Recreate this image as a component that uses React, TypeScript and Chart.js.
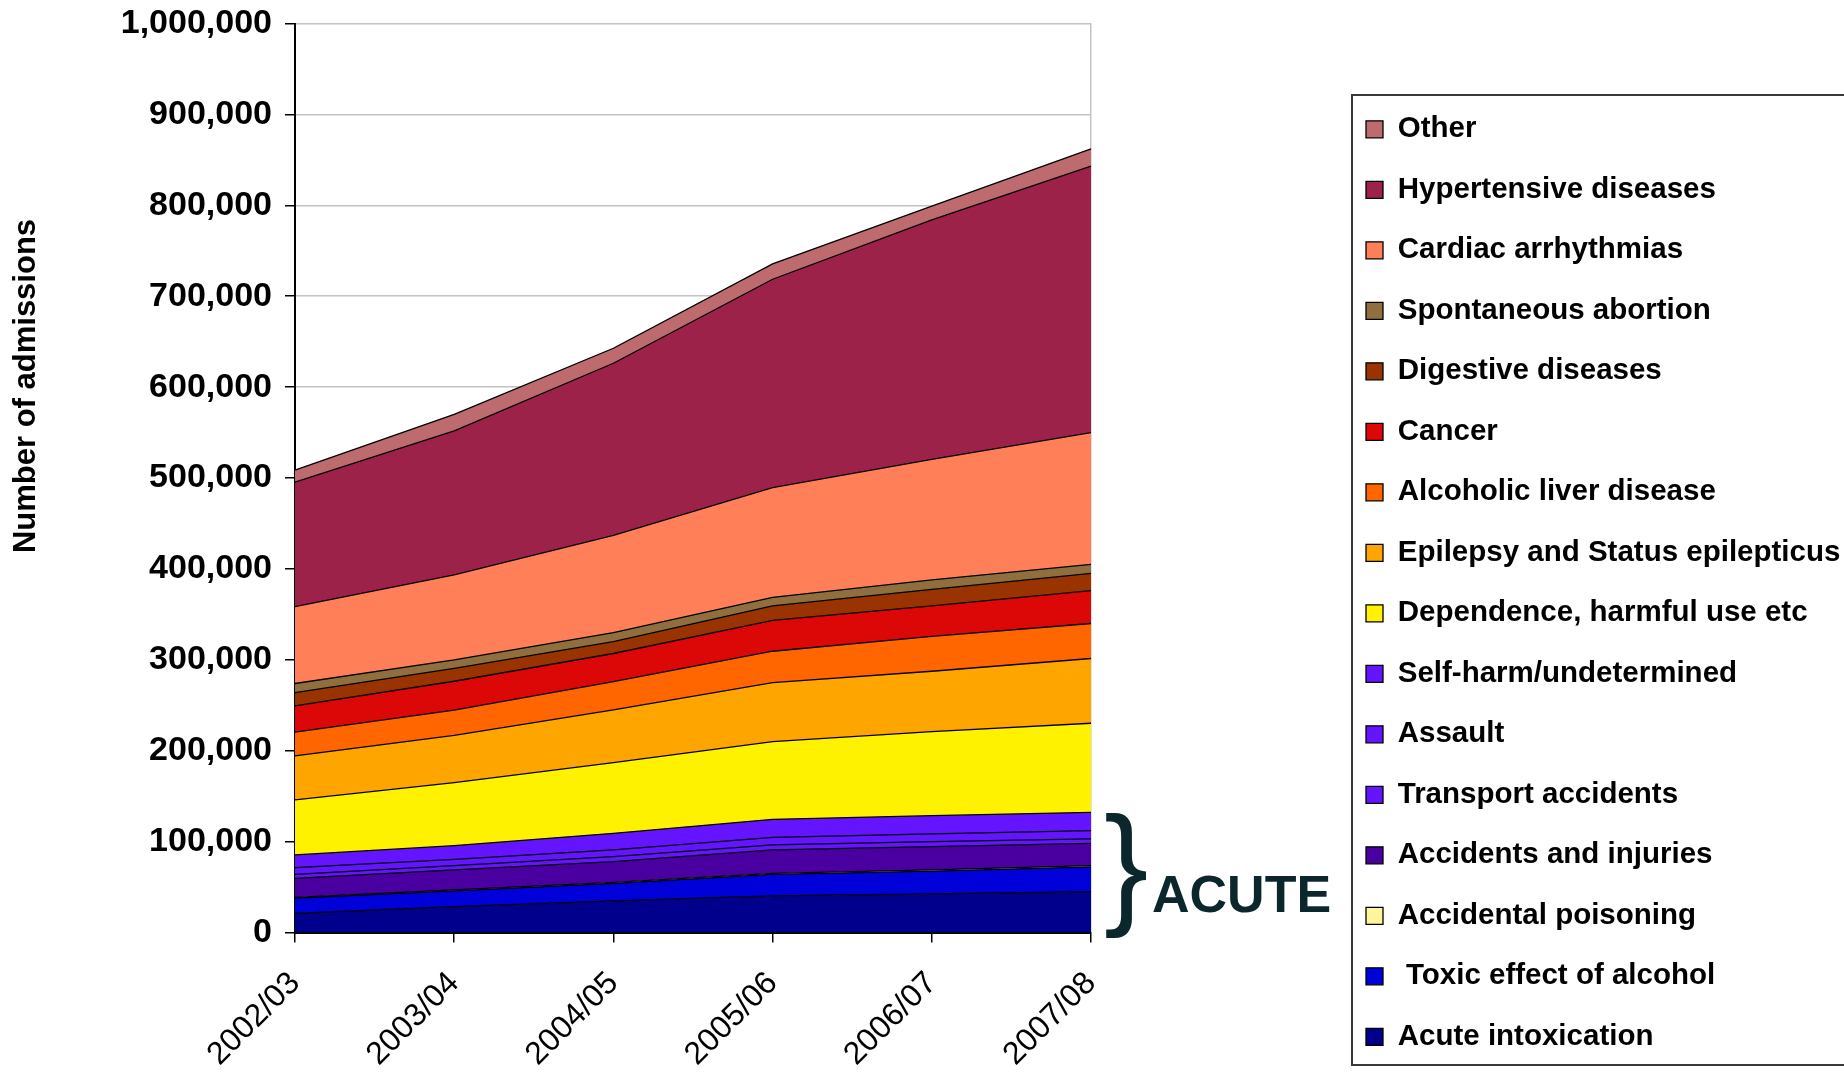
import React, { useEffect, useRef } from 'react';
import { Chart, registerables } from 'chart.js';

Chart.register(...registerables);

const categories = ['2002/03', '2003/04', '2004/05', '2005/06', '2006/07', '2007/08'];

// Series listed from the bottom of the stack to the top
const acuteIntoxication = [21200, 28500, 34800, 40300, 42500, 45000];
const toxicEffectOfAlcohol = [16800, 17400, 19400, 23700, 25200, 27300];
const accidentalPoisoning = [800, 1000, 1100, 1200, 1200, 1300];
const accidentsAndInjuries = [20900, 22000, 22700, 25700, 25600, 24600];
const transportAccidents = [4400, 4700, 5500, 5500, 5500, 4800];
const assault = [7300, 7000, 7400, 8400, 8500, 9100];
const selfHarm = [14000, 15000, 18300, 19800, 20100, 20200];
const dependenceHarmfulUse = [60600, 69400, 77800, 85400, 92400, 98000];
const epilepsy = [48300, 52000, 58000, 65000, 66500, 71200];
const alcoholicLiverDisease = [26200, 27700, 31000, 34500, 38300, 38500];
const cancer = [29000, 31800, 31000, 34000, 33500, 36200];
const digestiveDiseases = [14500, 14200, 13000, 15800, 18300, 19000];
const spontaneousAbortion = [10000, 9300, 10000, 9500, 10400, 9800];
const cardiacArrhythmias = [84500, 93400, 107000, 120700, 132500, 145000];
const hypertensiveDiseases = [137000, 158600, 189300, 229200, 263500, 293000];
const other = [13100, 18000, 16500, 16800, 15000, 19000];

const seriesNames = [
  'Acute intoxication',
  ' Toxic effect of alcohol',
  'Accidental poisoning',
  'Accidents and injuries',
  'Transport accidents',
  'Assault',
  'Self-harm/undetermined',
  'Dependence, harmful use etc',
  'Epilepsy and Status epilepticus',
  'Alcoholic liver disease',
  'Cancer',
  'Digestive diseases',
  'Spontaneous abortion',
  'Cardiac arrhythmias',
  'Hypertensive diseases',
  'Other',
];

const seriesValues = [
  acuteIntoxication,
  toxicEffectOfAlcohol,
  accidentalPoisoning,
  accidentsAndInjuries,
  transportAccidents,
  assault,
  selfHarm,
  dependenceHarmfulUse,
  epilepsy,
  alcoholicLiverDisease,
  cancer,
  digestiveDiseases,
  spontaneousAbortion,
  cardiacArrhythmias,
  hypertensiveDiseases,
  other,
];

const seriesColors = [
  '#00008C',
  '#0000D8',
  '#FFF59A',
  '#4A00A0',
  '#6414FF',
  '#6414FF',
  '#6414FF',
  '#FFF200',
  '#FFA500',
  '#FF6600',
  '#DC0707',
  '#993300',
  '#8F6F3E',
  '#FF7F59',
  '#9C2249',
  '#BD6B6E',
];

const yAxisTitle = 'Number of admissions';
const annotationText = 'ACUTE';

const FONT = "'Liberation Sans', Arial, Helvetica, sans-serif";

const decorPlugin = {
  id: 'decor',
  afterDraw(chart: any) {
    const { ctx, chartArea, legend } = chart;
    // y axis title
    ctx.save();
    ctx.fillStyle = '#000';
    ctx.font = `bold 31px ${FONT}`;
    ctx.textAlign = 'center';
    ctx.textBaseline = 'middle';
    ctx.translate(26, 386);
    ctx.rotate(-Math.PI / 2);
    ctx.fillText(yAxisTitle, 0, 0);
    ctx.restore();

    // legend frame
    if (legend) {
      ctx.save();
      ctx.strokeStyle = '#3a3a3a';
      ctx.lineWidth = 2;
      ctx.strokeRect(legend.left + 17, legend.top + 71.5, legend.width + 40, 970);
      ctx.restore();
    }

    // brace + ACUTE label
    ctx.save();
    ctx.fillStyle = '#0B272C';
    ctx.textAlign = 'left';
    ctx.textBaseline = 'alphabetic';
    ctx.font = `133px ${FONT}`;
    ctx.fillText('}', chartArea.right + 13, chartArea.bottom - 23);
    ctx.font = `bold 52px ${FONT}`;
    ctx.fillText(annotationText, chartArea.right + 61, chartArea.bottom - 21);
    ctx.restore();
  },
};

export default function App() {
  const ref = useRef<HTMLCanvasElement>(null);

  useEffect(() => {
    document.body.style.margin = '0';
    document.body.style.overflow = 'hidden';
    const canvas = ref.current;
    if (!canvas) return;

    const datasets = seriesNames.map((name, i) => ({
      label: name,
      data: seriesValues[i],
      backgroundColor: seriesColors[i],
      borderColor: '#000',
      borderWidth: 1.3,
      fill: i === 0 ? 'origin' : '-1',
      pointRadius: 0,
      pointHoverRadius: 0,
      tension: 0,
    }));

    const chart = new Chart(canvas, {
      type: 'line',
      data: { labels: categories, datasets },
      plugins: [decorPlugin],
      options: {
        responsive: false,
        animation: false,
        events: [],
        layout: { padding: { top: 23.5, right: -4, bottom: -10, left: 0 } },
        plugins: {
          legend: {
            position: 'right',
            align: 'start',
            reverse: true,
            maxWidth: 513,
            title: {
              display: true,
              text: ' ',
              font: { size: 10 },
              padding: { top: 0, bottom: 48.1 },
            },
            labels: {
              boxWidth: 17,
              boxHeight: 17,
              padding: 31,
              color: '#000',
              font: { family: FONT, size: 29.5, weight: 'bold' },
            },
          },
          tooltip: { enabled: false },
        },
        scales: {
          x: {
            type: 'category',
            offset: false,
            border: { display: true, color: '#000', width: 2 },
            grid: {
              color: (c: any) => (c.index === categories.length - 1 ? '#c4c4c4' : 'rgba(0,0,0,0)'),
              tickColor: '#000',
              tickLength: 10,
              lineWidth: 1.5,
              tickWidth: 1.5,
            },
            ticks: {
              color: '#000',
              font: { family: FONT, size: 32 },
              minRotation: 45,
              maxRotation: 45,
              padding: 22,
              autoSkip: false,
            },
            afterFit: (s: any) => {
              s.height = 152.4;
            },
          },
          y: {
            stacked: true,
            min: 0,
            max: 1000000,
            border: { display: true, color: '#000', width: 2 },
            grid: {
              color: (c: any) => (c.tick && c.tick.value === 0 ? 'rgba(0,0,0,0)' : '#c4c4c4'),
              tickColor: '#000',
              tickLength: 10,
              lineWidth: 1.5,
              tickWidth: 1.5,
            },
            ticks: {
              stepSize: 100000,
              color: '#000',
              padding: 13,
              font: { family: FONT, size: 34, weight: 'bold', lineHeight: 0.6 },
              callback: (v: any) => Number(v).toLocaleString('en-US'),
            },
            afterFit: (s: any) => {
              s.width = 295;
            },
          },
          ySpacer: {
            type: 'linear',
            position: 'right',
            display: true,
            grid: { display: false },
            border: { display: false },
            ticks: { display: false },
            afterFit: (s: any) => {
              s.width = 244;
            },
          },
        },
      } as any,
    });

    return () => {
      chart.destroy();
    };
  }, []);

  return <canvas ref={ref} width={1844} height={1075} style={{ display: 'block' }} />;
}
